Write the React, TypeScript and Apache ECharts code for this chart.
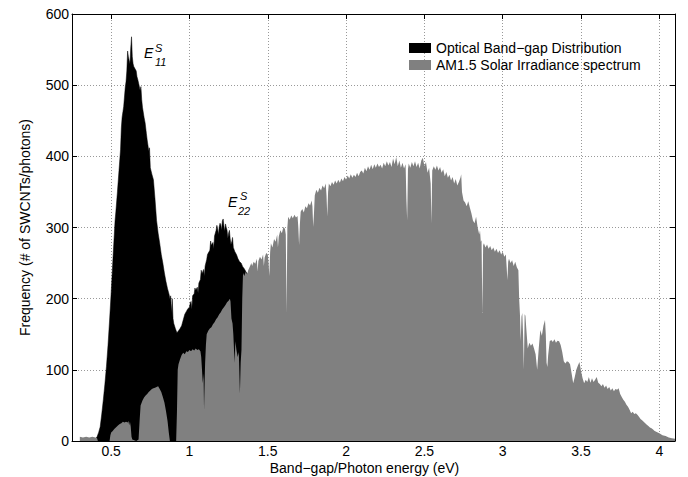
import React, { useEffect, useRef } from "react";
import * as echarts from "echarts";

const FONT = "'Liberation Sans', Arial, Helvetica, sans-serif";

const BAND_NAME = "Optical Band\u2212gap Distribution";
const SOLAR_NAME = "AM1.5 Solar Irradiance spectrum";
const X_NAME = "Band\u2212gap/Photon energy (eV)";
const Y_NAME = "Frequency (# of SWCNTs/photons)";

const X_MIN = 0.25;
const X_MAX = 4.1;
const Y_MIN = 0;
const Y_MAX = 600;
const Y_STEP = 100;

// Optical band-gap distribution of SWCNTs: [energy eV, frequency]
const bandGap: [number, number][] = [
  [0.38, 0], [0.39, 1], [0.4, 3], [0.41, 6], [0.42, 12], [0.43, 20], [0.44, 38], [0.45, 58],
  [0.46, 80], [0.47, 105], [0.48, 135], [0.49, 170], [0.5, 208], [0.51, 250], [0.52, 290],
  [0.525, 310], [0.53, 322], [0.54, 350], [0.55, 380], [0.56, 410], [0.565, 440], [0.57, 455],
  [0.58, 470], [0.59, 497], [0.595, 505], [0.6, 520], [0.605, 548], [0.61, 540], [0.615, 535],
  [0.62, 530], [0.625, 552], [0.63, 568], [0.635, 540], [0.64, 530], [0.645, 526], [0.65, 524],
  [0.66, 520], [0.665, 512], [0.67, 508], [0.68, 498], [0.685, 492], [0.69, 498], [0.695, 480],
  [0.7, 469], [0.71, 455], [0.717, 447], [0.725, 432], [0.73, 423], [0.74, 408], [0.745, 412],
  [0.75, 384], [0.76, 375], [0.77, 367], [0.78, 340], [0.79, 310], [0.8, 292], [0.81, 278],
  [0.82, 262], [0.83, 250], [0.84, 236], [0.85, 224], [0.86, 214], [0.87, 206], [0.875, 200],
  [0.88, 204], [0.885, 180], [0.89, 200], [0.895, 172], [0.9, 165], [0.91, 158], [0.92, 152],
  [0.93, 155], [0.94, 158], [0.95, 162], [0.96, 170], [0.97, 178], [0.98, 182], [0.99, 186],
  [1.0, 188], [1.005, 194], [1.01, 196], [1.015, 185], [1.02, 204], [1.03, 207], [1.035, 215],
  [1.04, 212], [1.05, 216], [1.055, 208], [1.06, 222], [1.07, 227], [1.075, 240], [1.08, 235],
  [1.09, 241], [1.095, 232], [1.1, 246], [1.11, 255], [1.115, 262], [1.12, 264], [1.13, 268],
  [1.135, 281], [1.14, 275], [1.15, 279], [1.155, 270], [1.16, 288], [1.17, 296], [1.175, 303],
  [1.18, 298], [1.185, 290], [1.19, 301], [1.195, 306], [1.2, 304], [1.205, 296], [1.21, 309],
  [1.215, 312], [1.22, 302], [1.225, 295], [1.23, 305], [1.235, 300], [1.24, 296], [1.245, 285],
  [1.25, 292], [1.255, 296], [1.26, 284], [1.265, 276], [1.27, 280], [1.275, 286], [1.28, 272],
  [1.29, 266], [1.3, 262], [1.31, 256], [1.32, 252], [1.33, 250], [1.34, 245], [1.35, 242],
  [1.36, 238], [1.37, 235], [1.38, 232], [1.385, 200], [1.39, 0],
];

// AM1.5 solar photon spectrum (scaled): [energy eV, photons]
const solar: [number, number][] = [
  [0.3, 6], [0.32, 5], [0.34, 6], [0.36, 5], [0.38, 6], [0.4, 5], [0.41, 4], [0.415, 0],
  [0.49, 0], [0.495, 8], [0.5, 12], [0.51, 14], [0.52, 17], [0.53, 19], [0.545, 22], [0.555, 24],
  [0.565, 25], [0.575, 27], [0.585, 26], [0.595, 27], [0.605, 26], [0.61, 28], [0.615, 22],
  [0.62, 27], [0.625, 20], [0.63, 6], [0.635, 2], [0.66, 0], [0.675, 2], [0.682, 30], [0.688, 50],
  [0.7, 57], [0.71, 61], [0.72, 64], [0.73, 66], [0.74, 69], [0.75, 71], [0.76, 73], [0.77, 74],
  [0.78, 75], [0.79, 76], [0.8, 77], [0.81, 73], [0.82, 69], [0.83, 62], [0.84, 54], [0.85, 42],
  [0.86, 28], [0.868, 12], [0.875, 0], [0.915, 0], [0.92, 40], [0.925, 100], [0.93, 108],
  [0.94, 115], [0.95, 121], [0.96, 124], [0.97, 122], [0.98, 126], [0.99, 125], [1.0, 128],
  [1.01, 126], [1.02, 129], [1.03, 127], [1.04, 130], [1.05, 128], [1.06, 129], [1.07, 126],
  [1.075, 118], [1.08, 100], [1.085, 81], [1.09, 95], [1.093, 44], [1.097, 85], [1.1, 110],
  [1.105, 135], [1.11, 150], [1.12, 155], [1.13, 158], [1.14, 160], [1.15, 164], [1.16, 167],
  [1.17, 171], [1.18, 174], [1.19, 178], [1.2, 181], [1.21, 185], [1.22, 188], [1.23, 191],
  [1.24, 195], [1.25, 197], [1.258, 200], [1.262, 196], [1.268, 172], [1.275, 165], [1.28, 150],
  [1.288, 110], [1.293, 140], [1.3, 128], [1.308, 118], [1.315, 125], [1.322, 67], [1.327, 110],
  [1.332, 128], [1.337, 200], [1.342, 236], [1.35, 232], [1.36, 238], [1.368, 234], [1.375, 240],
  [1.385, 245], [1.395, 250], [1.4, 246], [1.41, 252], [1.42, 249], [1.43, 256], [1.435, 238],
  [1.44, 253], [1.45, 259], [1.46, 255], [1.47, 262], [1.475, 246], [1.48, 258], [1.49, 264],
  [1.5, 262], [1.505, 250], [1.51, 232], [1.515, 265], [1.52, 278], [1.53, 272], [1.54, 284],
  [1.55, 280], [1.56, 290], [1.565, 272], [1.57, 287], [1.58, 296], [1.59, 292], [1.6, 301],
  [1.61, 298], [1.615, 290], [1.62, 180], [1.625, 300], [1.63, 315], [1.64, 311], [1.65, 317],
  [1.66, 313], [1.67, 318], [1.68, 314], [1.69, 316], [1.695, 300], [1.7, 275], [1.705, 305],
  [1.71, 322], [1.72, 326], [1.73, 321], [1.74, 330], [1.75, 327], [1.76, 334], [1.77, 331],
  [1.78, 338], [1.785, 330], [1.79, 301], [1.795, 320], [1.8, 345], [1.81, 353], [1.82, 349],
  [1.83, 356], [1.84, 352], [1.85, 359], [1.86, 355], [1.87, 362], [1.875, 345], [1.88, 315],
  [1.885, 350], [1.89, 362], [1.9, 358], [1.91, 364], [1.92, 360], [1.93, 366], [1.94, 362],
  [1.95, 367], [1.96, 363], [1.97, 369], [1.98, 365], [1.99, 371], [2.0, 367], [2.01, 373],
  [2.02, 369], [2.03, 375], [2.04, 370], [2.05, 374], [2.06, 371], [2.07, 377], [2.08, 372],
  [2.09, 378], [2.1, 380], [2.11, 376], [2.12, 384], [2.13, 379], [2.14, 386], [2.15, 381],
  [2.16, 388], [2.17, 382], [2.18, 389], [2.19, 384], [2.2, 390], [2.21, 385], [2.22, 388],
  [2.23, 383], [2.24, 391], [2.25, 386], [2.26, 393], [2.27, 387], [2.28, 392], [2.29, 385],
  [2.3, 397], [2.31, 389], [2.32, 399], [2.33, 386], [2.34, 394], [2.35, 384], [2.36, 391],
  [2.37, 383], [2.38, 389], [2.385, 340], [2.39, 310], [2.395, 382], [2.4, 390], [2.41, 384],
  [2.42, 392], [2.43, 386], [2.44, 393], [2.45, 385], [2.46, 391], [2.47, 383], [2.48, 394],
  [2.49, 398], [2.5, 386], [2.51, 392], [2.52, 377], [2.53, 384], [2.54, 362], [2.545, 306],
  [2.55, 380], [2.56, 386], [2.57, 381], [2.58, 387], [2.59, 380], [2.6, 385], [2.61, 377],
  [2.62, 382], [2.63, 372], [2.64, 378], [2.65, 370], [2.66, 374], [2.67, 366], [2.68, 371],
  [2.69, 362], [2.7, 368], [2.71, 359], [2.72, 364], [2.73, 370], [2.735, 375], [2.74, 350],
  [2.75, 338], [2.76, 335], [2.77, 330], [2.78, 337], [2.79, 328], [2.8, 320], [2.81, 310],
  [2.82, 306], [2.83, 315], [2.84, 300], [2.85, 290], [2.855, 296], [2.86, 280], [2.865, 282],
  [2.87, 180], [2.875, 275], [2.88, 278], [2.89, 272], [2.9, 276], [2.91, 270], [2.92, 274],
  [2.93, 268], [2.94, 272], [2.95, 266], [2.96, 270], [2.97, 264], [2.98, 268], [2.99, 262],
  [3.0, 266], [3.01, 259], [3.02, 262], [3.025, 245], [3.03, 226], [3.035, 252], [3.04, 256],
  [3.05, 250], [3.06, 254], [3.07, 246], [3.08, 252], [3.09, 244], [3.1, 240], [3.105, 200],
  [3.11, 178], [3.115, 140], [3.12, 175], [3.125, 180], [3.13, 150], [3.135, 100], [3.14, 178],
  [3.145, 176], [3.15, 160], [3.16, 130], [3.17, 138], [3.18, 134], [3.19, 137], [3.2, 130],
  [3.21, 122], [3.22, 100], [3.23, 130], [3.24, 156], [3.25, 148], [3.26, 162], [3.27, 170],
  [3.275, 150], [3.28, 110], [3.285, 104], [3.29, 120], [3.3, 140], [3.31, 142], [3.32, 139],
  [3.33, 143], [3.34, 138], [3.35, 141], [3.36, 140], [3.37, 135], [3.38, 125], [3.39, 112],
  [3.4, 109], [3.41, 112], [3.42, 111], [3.43, 108], [3.44, 95], [3.45, 81], [3.46, 90],
  [3.47, 100], [3.48, 106], [3.49, 111], [3.5, 98], [3.51, 88], [3.52, 81], [3.53, 86],
  [3.54, 83], [3.55, 90], [3.56, 82], [3.57, 88], [3.58, 83], [3.59, 86], [3.6, 90], [3.61, 82],
  [3.62, 80], [3.63, 77], [3.64, 80], [3.65, 75], [3.66, 78], [3.67, 73], [3.68, 76], [3.69, 71],
  [3.7, 74], [3.71, 70], [3.72, 73], [3.73, 72], [3.74, 74], [3.75, 66], [3.76, 62], [3.77, 58],
  [3.78, 55], [3.79, 51], [3.8, 48], [3.81, 44], [3.82, 39], [3.83, 41], [3.84, 38], [3.85, 39],
  [3.86, 37], [3.87, 34], [3.88, 31], [3.89, 29], [3.9, 27], [3.91, 25], [3.92, 23], [3.93, 21],
  [3.94, 19], [3.95, 18], [3.96, 16], [3.97, 14], [3.98, 13], [3.99, 12], [4.0, 11], [4.02, 8],
  [4.04, 7], [4.06, 5], [4.08, 4], [4.1, 3],
];

const BLACK = "#000000";
const GRAY = "#808080";

export default function App() {
  const ref = useRef<HTMLDivElement>(null);

  useEffect(() => {
    if (!ref.current) return;
    const chart = echarts.init(ref.current, undefined, { renderer: "svg" });

    const gridLine = { show: true, lineStyle: { color: "#999", type: [1, 2], width: 1 } };
    const axisLine = { show: true, onZero: false, lineStyle: { color: "#000", width: 1 } };
    const tick = { show: true, inside: true, length: 5, lineStyle: { color: "#000", width: 1 } };
    const labelStyle = { color: "#000", fontSize: 14, fontFamily: FONT };

    const xCommon = {
      type: "value",
      min: X_MIN,
      max: X_MAX,
      splitNumber: 8,
      minInterval: 0.5,
      maxInterval: 0.5,
    };
    const yCommon = { type: "value", min: Y_MIN, max: Y_MAX, interval: Y_STEP };

    const option: any = {
      animation: false,
      backgroundColor: "#ffffff",
      grid: { left: 72, right: 13, top: 14, bottom: 36, containLabel: false, outerBoundsMode: "none" },
      legend: {
        orient: "vertical",
        left: 404,
        top: 36,
        itemWidth: 22,
        itemHeight: 10,
        itemGap: 3,
        icon: "rect",
        textStyle: { ...labelStyle, lineHeight: 14 },
        data: [
          { name: BAND_NAME, itemStyle: { color: BLACK } },
          { name: SOLAR_NAME, itemStyle: { color: GRAY } },
        ],
      },
      xAxis: [
        {
          ...xCommon,
          position: "bottom",
          axisLine,
          axisTick: tick,
          axisLabel: { ...labelStyle, margin: 3, showMinLabel: false, showMaxLabel: false },
          splitLine: gridLine,
          name: X_NAME,
          nameLocation: "middle",
          nameGap: 20,
          nameMoveOverlap: false,
          nameTextStyle: { ...labelStyle, padding: [0, 18, 0, 0] },
        },
        {
          ...xCommon,
          position: "top",
          axisLine,
          axisTick: tick,
          axisLabel: { show: false },
          splitLine: { show: false },
        },
      ],
      yAxis: [
        {
          ...yCommon,
          position: "left",
          axisLine,
          axisTick: tick,
          axisLabel: { ...labelStyle, margin: 3 },
          splitLine: gridLine,
          name: Y_NAME,
          nameLocation: "middle",
          nameGap: 40,
          nameMoveOverlap: false,
          nameTextStyle: labelStyle,
        },
        {
          ...yCommon,
          position: "right",
          axisLine,
          axisTick: tick,
          axisLabel: { show: false },
          splitLine: { show: false },
        },
      ],
      series: [
        {
          name: BAND_NAME,
          type: "line",
          data: bandGap,
          symbol: "none",
          showSymbol: false,
          lineStyle: { width: 0.5, color: BLACK },
          areaStyle: { color: BLACK, opacity: 1 },
          itemStyle: { color: BLACK },
          z: 2,
          silent: true,
        },
        {
          name: SOLAR_NAME,
          type: "line",
          data: solar,
          symbol: "none",
          showSymbol: false,
          lineStyle: { width: 0, color: GRAY },
          areaStyle: { color: GRAY, opacity: 1 },
          itemStyle: { color: GRAY },
          z: 3,
          silent: true,
        },
      ],
      graphic: [
        { type: "text", left: 144, top: 46, style: { text: "E", font: `italic 14px ${FONT}`, fill: "#000" } },
        { type: "text", left: 155, top: 42, style: { text: "S", font: `italic 11px ${FONT}`, fill: "#000" } },
        { type: "text", left: 155, top: 56, style: { text: "11", font: `italic 11px ${FONT}`, fill: "#000" } },
        { type: "text", left: 228, top: 195, style: { text: "E", font: `italic 14px ${FONT}`, fill: "#000" } },
        { type: "text", left: 240, top: 190, style: { text: "S", font: `italic 11px ${FONT}`, fill: "#000" } },
        { type: "text", left: 238, top: 205, style: { text: "22", font: `italic 11px ${FONT}`, fill: "#000" } },
      ],
    };

    chart.setOption(option);
    return () => {
      chart.dispose();
    };
  }, []);

  return (
    <div
      ref={ref}
      style={{ position: "fixed", left: 0, top: 0, width: 688, height: 477, background: "#fff" }}
    />
  );
}
